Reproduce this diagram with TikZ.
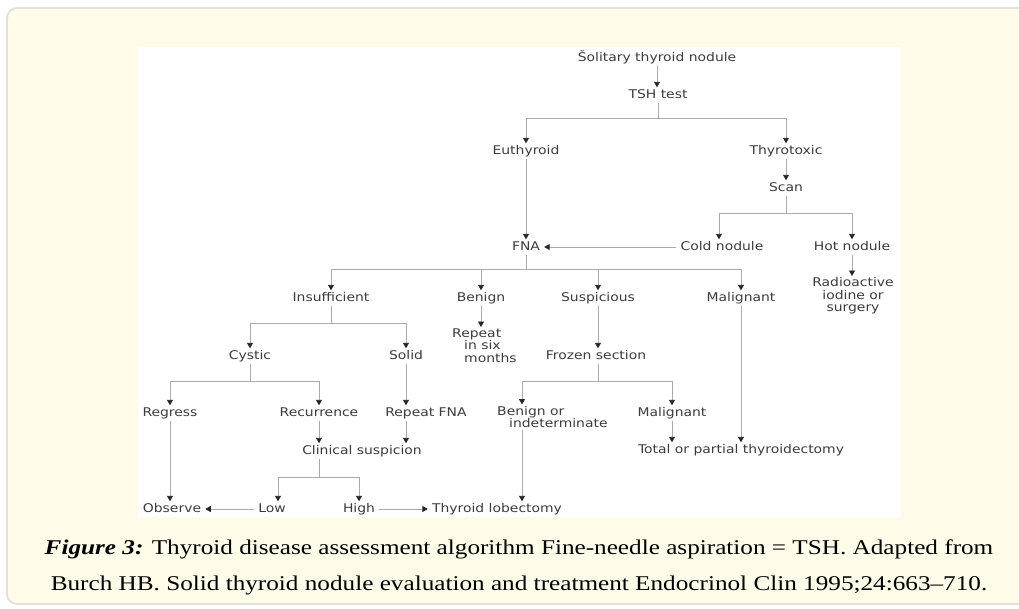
\documentclass[tikz,border=0pt]{standalone}
\usepackage{fontspec}
\usetikzlibrary{arrows.meta,calc}
\newfontfamily\diagfont[FakeStretch=1.16]{DejaVu Sans}
\newfontfamily\capfont[FakeStretch=1.2]{Liberation Serif}
\definecolor{framefill}{HTML}{FFFBE9}
\definecolor{framedraw}{HTML}{E4E0D4}
\definecolor{linegray}{HTML}{AAAAAA}
\definecolor{txt}{HTML}{3C3C3C}
\begin{document}
\begin{tikzpicture}[x=1pt,y=-1pt,
  box/.style={font={\diagfont\fontsize{12}{12.5}\selectfont}, text=txt, inner xsep=4pt, inner ysep=1.5pt, text height=9pt, text depth=3pt},
  mbox/.style={font={\diagfont\fontsize{12}{12.5}\selectfont}, text=txt, inner xsep=4pt, inner ysep=1.5pt, align=center},
  capstyle/.style={font={\capfont\fontsize{21}{25}\selectfont}, text=black, inner sep=0pt},
  conn/.style={draw=linegray, line width=0.9pt},
  arr/.style={conn, -{Triangle[length=5.5pt,width=6pt,color=black!85]}}
]
\useasboundingbox (0,0) rectangle (1019,608);
\fill[white] (0,0) rectangle (1019,608);
\draw[framedraw, fill=framefill, line width=1.8pt, rounded corners=10pt] (7,8) rectangle (1040,604);
\fill[white] (138,47) rectangle (901,517);

% nodes
\node[box] (sol) at (657,58) {Šolitary thyroid nodule};
\node[box] (tsh) at (658,95) {TSH test};
\node[box] (euth) at (526,151) {Euthyroid};
\node[box] (thyro) at (786,151) {Thyrotoxic};
\node[box] (scan) at (786,188) {Scan};
\node[box] (fna) at (526,247) {FNA};
\node[box] (cold) at (722,247) {Cold nodule};
\node[box] (hot) at (852,247) {Hot nodule};
\node[mbox, anchor=north] (rad) at (853,276) {Radioactive\\iodine or\\surgery};
\node[box] (ins) at (331,298) {Insufficient};
\node[box] (ben) at (481,298) {Benign};
\node[box] (sus) at (598,298) {Suspicious};
\node[box] (mal) at (741,298) {Malignant};
\node[mbox, align=left, anchor=north west] (rep6) at (448,327) {Repeat\\\hspace*{12pt}in six\\\hspace*{12pt}months};
\node[box] (cyst) at (250,356) {Cystic};
\node[box] (solid) at (406,356) {Solid};
\node[box] (frozen) at (596,356) {Frozen section};
\node[box] (regress) at (170,413) {Regress};
\node[box] (recur) at (319,413) {Recurrence};
\node[box] (repfna) at (426,413) {Repeat FNA};
\node[mbox, align=left, anchor=north west] (benind) at (493,404.5) {Benign or\\\hspace*{12pt}indeterminate};
\node[box] (mal2) at (672,413) {Malignant};
\node[box] (clin) at (362,451) {Clinical suspicion};
\node[box] (total) at (741,450) {Total or partial thyroidectomy};
\node[box] (low) at (272,509) {Low};
\node[box] (high) at (359,509) {High};
\node[box] (obs) at (172,509) {Observe};
\node[box] (lob) at (497,509) {Thyroid lobectomy};

% connectors
\draw[arr] (sol.south) -- (sol.south |- tsh.north);
\path (tsh.south) ++(0,16) coordinate (j1);
\draw[conn] (tsh.south) -- (j1);
\draw[arr] (j1) -| (euth.north);
\draw[arr] (j1) -| (thyro.north);
\draw[arr] (thyro.south) -- (scan.north);
\path (scan.south) ++(0,17.5) coordinate (j2);
\draw[conn] (scan.south) -- (j2);
\draw[arr] (j2) -| ([xshift=-3pt]cold.north);
\draw[arr] (j2) -| (hot.north);
\draw[arr] (hot.south) -- (hot.south |- rad.north);
\draw[arr] (cold.west) -- (fna.east);
\draw[arr] (euth.south) -- (fna.north);
\path (fna.south) ++(0,14.5) coordinate (j3);
\draw[conn] (fna.south) -- (j3);
\draw[arr] (j3) -| (ins.north);
\draw[arr] (j3) -| (ben.north);
\draw[arr] (j3) -| (sus.north);
\draw[arr] (j3) -| (mal.north);
\draw[arr] (ben.south) -- (ben.south |- rep6.north);
\draw[arr] (sus.south) -- (sus.south |- frozen.north);
\path (ins.south) ++(0,17.5) coordinate (j4);
\draw[conn] (ins.south) -- (j4);
\draw[arr] (j4) -| (cyst.north);
\draw[arr] (j4) -| (solid.north);
\path (cyst.south) ++(0,17.5) coordinate (j5);
\draw[conn] (cyst.south) -- (j5);
\draw[arr] (j5) -| (regress.north);
\draw[arr] (j5) -| (recur.north);
\draw[arr] (solid.south) -- (solid.south |- repfna.north);
\path ([xshift=2pt]frozen.south) ++(0,17.5) coordinate (j6);
\draw[conn] ([xshift=2pt]frozen.south) -- (j6);
\draw[arr] (j6) -| ([xshift=29pt]benind.north west);
\draw[arr] (j6) -| (mal2.north);
\draw[arr] (mal.south) -- (mal.south |- total.north);
\draw[arr] (mal2.south) -- (mal2.south |- total.north);
\draw[arr] (recur.south) -- (recur.south |- clin.north);
\draw[arr] (solid.south |- repfna.south) -- (solid.south |- clin.north);
\path (recur.south |- clin.south) ++(0,18.5) coordinate (j7);
\draw[conn] (recur.south |- clin.south) -- (j7);
\draw[arr] (j7) -| ([xshift=6pt]low.north);
\draw[arr] (j7) -| (high.north);
\draw[arr] (regress.south) -- (regress.south |- obs.north);
\draw[arr] (low.west) -- (obs.east);
\draw[arr] (high.east) -- (lob.west);
\draw[arr] ([xshift=29pt]benind.south west) -- ([xshift=29pt]benind.south west |- lob.north);

% caption
\node[capstyle, anchor=base] (cap1) at (519,554) {\textbf{\textit{Figure 3:}} Thyroid disease assessment algorithm Fine-needle aspiration = TSH. Adapted from};
\node[capstyle, anchor=base] (cap2) at (519,590) {Burch HB. Solid thyroid nodule evaluation and treatment Endocrinol Clin 1995;24:663–710.};
\end{tikzpicture}
\end{document}
